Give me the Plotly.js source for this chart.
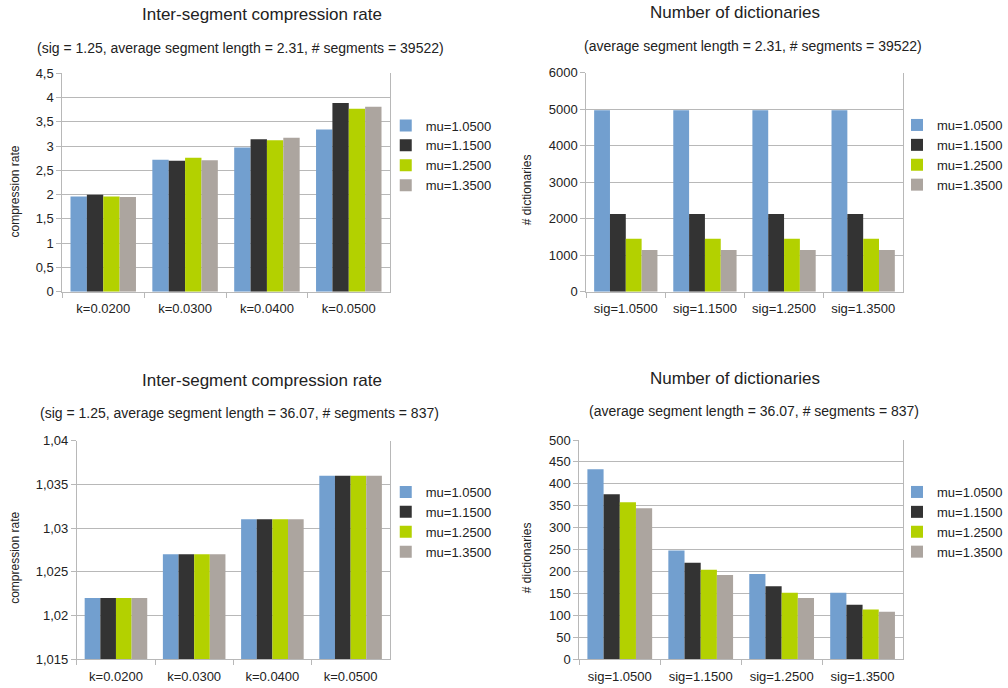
<!DOCTYPE html>
<html>
<head>
<meta charset="utf-8">
<script src="https://cdn.plot.ly/plotly-3.0.1.min.js"></script>
<style>
  html, body { margin: 0; padding: 0; background: #fff; }
  #chart { width: 1008px; height: 688px; }
</style>
</head>
<body>
<div id="chart"></div>
<script>
// Categories
const kLabels = ['k=0.0200', 'k=0.0300', 'k=0.0400', 'k=0.0500'];
const sigLabels = ['sig=1.0500', 'sig=1.1500', 'sig=1.2500', 'sig=1.3500'];
const muNames = ['mu=1.0500', 'mu=1.1500', 'mu=1.2500', 'mu=1.3500'];

// Inter-segment compression rate, short segments (one array per mu)
const rateShort_mu105 = [1.96, 2.72, 2.97, 3.34];
const rateShort_mu115 = [2.00, 2.70, 3.14, 3.89];
const rateShort_mu125 = [1.96, 2.76, 3.12, 3.77];
const rateShort_mu135 = [1.95, 2.71, 3.17, 3.81];

// Number of dictionaries, short segments
const dictShort_mu105 = [4970, 4970, 4970, 4970];
const dictShort_mu115 = [2130, 2130, 2130, 2130];
const dictShort_mu125 = [1450, 1450, 1450, 1450];
const dictShort_mu135 = [1140, 1140, 1140, 1140];

// Inter-segment compression rate, long segments
const rateLong_mu105 = [1.022, 1.027, 1.031, 1.036];
const rateLong_mu115 = [1.022, 1.027, 1.031, 1.036];
const rateLong_mu125 = [1.022, 1.027, 1.031, 1.036];
const rateLong_mu135 = [1.022, 1.027, 1.031, 1.036];

// Number of dictionaries, long segments
const dictLong_mu105 = [433, 248, 194, 151];
const dictLong_mu115 = [376, 220, 166, 124];
const dictLong_mu125 = [358, 204, 151, 113];
const dictLong_mu135 = [344, 192, 139, 108];

// Y tick labels (comma decimal separator)
const rateShortTicks = [0, 0.5, 1, 1.5, 2, 2.5, 3, 3.5, 4, 4.5];
const rateShortTickText = ['0', '0,5', '1', '1,5', '2', '2,5', '3', '3,5', '4', '4,5'];
const dictShortTicks = [0, 1000, 2000, 3000, 4000, 5000, 6000];
const dictShortTickText = ['0', '1000', '2000', '3000', '4000', '5000', '6000'];
const rateLongTicks = [1.015, 1.02, 1.025, 1.03, 1.035, 1.04];
const rateLongTickText = ['1,015', '1,02', '1,025', '1,03', '1,035', '1,04'];
const dictLongTicks = [0, 50, 100, 150, 200, 250, 300, 350, 400, 450, 500];
const dictLongTickText = ['0', '50', '100', '150', '200', '250', '300', '350', '400', '450', '500'];

const barColors = ['#729fcf', '#333333', '#b3d100', '#aca59f'];

const W = 1008, H = 688;
const px = v => v / W;
const py = v => 1 - v / H;

function series(cats, valueSets, xa, ya, legendId) {
  return valueSets.map((vals, i) => ({
    type: 'bar',
    x: cats,
    y: vals,
    name: muNames[i],
    marker: { color: barColors[i], line: { width: 0 } },
    xaxis: xa,
    yaxis: ya,
    legend: legendId,
    hoverinfo: 'x+y+name'
  }));
}

const traces = [].concat(
  series(kLabels, [rateShort_mu105, rateShort_mu115, rateShort_mu125, rateShort_mu135], 'x', 'y', 'legend'),
  series(sigLabels, [dictShort_mu105, dictShort_mu115, dictShort_mu125, dictShort_mu135], 'x2', 'y2', 'legend2'),
  series(kLabels, [rateLong_mu105, rateLong_mu115, rateLong_mu125, rateLong_mu135], 'x3', 'y3', 'legend3'),
  series(sigLabels, [dictLong_mu105, dictLong_mu115, dictLong_mu125, dictLong_mu135], 'x4', 'y4', 'legend4')
);

const textColor = '#222222';
const gridColor = '#b8b8b8';
const tickFont = { family: 'Liberation Sans, Arial, sans-serif', size: 13, color: textColor };

function xAxis(domain, anchor) {
  return {
    domain: domain, anchor: anchor, type: 'category',
    showline: true, linecolor: gridColor, linewidth: 1,
    ticks: 'outside', tickson: 'boundaries', ticklen: 5, tickcolor: gridColor,
    ticklabelstandoff: 5,
    showgrid: false, zeroline: false, tickfont: tickFont, fixedrange: true
  };
}
function yAxis(domain, anchor, range, vals, text) {
  return {
    domain: domain, anchor: anchor, range: range,
    tickmode: 'array', tickvals: vals, ticktext: text,
    showline: true, mirror: true, linecolor: gridColor, linewidth: 1,
    ticks: 'outside', ticklen: 5, tickcolor: gridColor,
    showgrid: true, gridcolor: gridColor, gridwidth: 1,
    zeroline: false, tickfont: tickFont, fixedrange: true
  };
}
function legendAt(xp, yp) {
  return {
    x: px(xp), y: py(yp), xanchor: 'left', yanchor: 'top',
    bgcolor: 'rgba(0,0,0,0)', borderwidth: 0,
    font: { family: 'Liberation Sans, Arial, sans-serif', size: 13, color: textColor },
    itemclick: false, itemdoubleclick: false
  };
}

const titleFont = { family: 'Liberation Sans, Arial, sans-serif', size: 17, color: textColor };
const subFont = { family: 'Liberation Sans, Arial, sans-serif', size: 14, color: textColor };
const axFont = { family: 'Liberation Sans, Arial, sans-serif', size: 12, color: textColor };

function note(text, x, y, font, angle) {
  return {
    text: text, xref: 'paper', yref: 'paper', x: px(x), y: py(y),
    xanchor: 'center', yanchor: 'middle', showarrow: false,
    font: font, textangle: angle || 0
  };
}

const layout = {
  width: W, height: H,
  margin: { l: 0, r: 0, t: 0, b: 0 },
  paper_bgcolor: '#ffffff', plot_bgcolor: '#ffffff',
  barmode: 'group', bargap: 0.2, bargroupgap: 0,
  showlegend: true,
  xaxis: xAxis([px(63), px(394)], 'y'),
  yaxis: yAxis([py(291.7), py(73.3)], 'x', [0, 4.5], rateShortTicks, rateShortTickText),
  xaxis2: xAxis([px(592.7), px(912.7)], 'y2'),
  yaxis2: yAxis([py(291.7), py(72.7)], 'x2', [0, 6000], dictShortTicks, dictShortTickText),
  xaxis3: xAxis([px(77.7), px(394)], 'y3'),
  yaxis3: yAxis([py(659), py(440.7)], 'x3', [1.015, 1.04], rateLongTicks, rateLongTickText),
  xaxis4: xAxis([px(585.7), px(913)], 'y4'),
  yaxis4: yAxis([py(659), py(440)], 'x4', [0, 500], dictLongTicks, dictLongTickText),
  legend: legendAt(390, 110.5),
  legend2: legendAt(907, 110),
  legend3: legendAt(390, 477),
  legend4: legendAt(907, 477),
  annotations: [
    note('Inter-segment compression rate', 265, 14, titleFont),
    note('(sig = 1.25, average segment length = 2.31, # segments = 39522)', 243, 48, subFont),
    note('Number of dictionaries', 743, 12, titleFont),
    note('(average segment length = 2.31, # segments = 39522)', 761, 46, subFont),
    note('Inter-segment compression rate', 265, 380, titleFont),
    note('(sig = 1.25, average segment length = 36.07, # segments = 837)', 242, 413, subFont),
    note('Number of dictionaries', 743, 378, titleFont),
    note('(average segment length = 36.07, # segments = 837)', 762, 411, subFont),
    note('compression rate', 15, 191.7, axFont, -90),
    note('# dictionaries', 533, 190, axFont, -90),
    note('compression rate', 15, 558, axFont, -90),
    note('# dictionaries', 533, 558, axFont, -90)
  ]
};

Plotly.newPlot('chart', traces, layout, { displayModeBar: false, staticPlot: true });
</script>
</body>
</html>
